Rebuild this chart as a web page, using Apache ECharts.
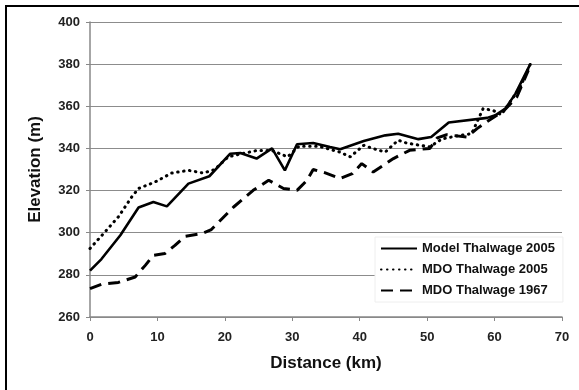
<!DOCTYPE html>
<html>
<head>
<meta charset="utf-8">
<script src="https://cdn.jsdelivr.net/npm/echarts@6/dist/echarts.min.js"></script>
<style>
  html, body { margin: 0; padding: 0; background: #fff; }
  #chart { width: 579px; height: 390px; }
</style>
</head>
<body>
<div id="chart"></div>
<script>
// distances (km) and elevations (m)
var modelDist = [0, 1.7, 4.5, 7.2, 9.4, 11.4, 14.6, 17.7, 20.8, 22.3, 24.7, 27, 28.9, 30.7, 33.1, 35.6, 37.1, 40.6, 43.8, 45.7, 48.7, 50.6, 53.2, 58.9, 60.1, 61.6, 63.1, 65.3];
var modelElev = [282, 287.5, 298.8, 312, 314.6, 312.5, 323.3, 326.8, 337.5, 337.8, 335.2, 340, 329.6, 342, 342.6, 340.7, 339.6, 343.5, 346.2, 347, 344.4, 345.4, 352.3, 354.5, 355.7, 358.9, 366, 380];

var mdo2005Dist = [0, 2.2, 4.2, 6.2, 7.2, 9.6, 12.1, 14.6, 16.8, 18.5, 20.5, 22.5, 24.7, 27, 29.3, 31, 34, 37, 38.6, 40.6, 42, 43.8, 45.7, 46.9, 48.9, 50.4, 52.2, 54.9, 56.6, 58.3, 59.8, 61, 63.8, 65.3];
var mdo2005Elev = [292.5, 300.3, 307.5, 317, 321, 324, 328.3, 329.6, 328.3, 330, 336, 337.5, 339, 339, 336, 341, 341, 338.3, 336, 341.5, 339.9, 338.3, 343.9, 342.6, 341.5, 340.8, 344.5, 346.2, 347, 358.9, 358, 356, 369, 380];

var mdo1967Dist = [0, 1.7, 4.2, 6.7, 8.2, 9.4, 11.1, 12.6, 14.1, 16.6, 18, 21.3, 24.2, 26.5, 28.7, 30.7, 32.2, 33.1, 34.8, 37.1, 38.9, 40.3, 42, 45, 47.4, 50.4, 51.5, 52.9, 55.9, 57.4, 58.8, 61.4, 63.3, 65];
var mdo1967Elev = [273.5, 275.5, 276.4, 279, 284.5, 289.3, 290.1, 294, 298.3, 299.6, 301.5, 312.2, 320.1, 324.9, 321, 320.1, 324.9, 330, 328.5, 325.7, 328, 332.8, 328.8, 335.2, 339.1, 340, 345, 346.5, 345.4, 349.4, 352.5, 358, 364.4, 377];

var seriesNames = ['Model Thalwage 2005', 'MDO Thalwage 2005', 'MDO Thalwage 1967'];

function pairs(xs, ys) {
  return xs.map(function (x, i) { return [x, ys[i]]; });
}

var chart = echarts.init(document.getElementById('chart'));
var font = 'Liberation Sans, Arial, sans-serif';

chart.setOption({
  animation: false,
  backgroundColor: '#fff',
  color: ['#000', '#000', '#000'],
  grid: { left: 90, right: 17, top: 22, bottom: 73 },
  // frame of the figure
  graphic: [{
    type: 'polyline',
    shape: { points: [[6, 395], [6, 6], [585, 6]] },
    style: { stroke: '#000', lineWidth: 2, fill: null }
  }],
  legend: {
    data: seriesNames,
    orient: 'vertical',
    left: 375,
    top: 237,
    padding: [5, 8, 5, 5],
    itemWidth: 36,
    itemHeight: 14,
    itemGap: 8,
    itemStyle: { opacity: 0 },
    backgroundColor: '#fff',
    borderColor: '#eee',
    borderWidth: 1,
    textStyle: { fontFamily: font, fontWeight: 'bold', fontSize: 13, color: '#111' }
  },
  xAxis: {
    type: 'value',
    min: 0, max: 70, interval: 10,
    name: 'Distance (km)',
    nameLocation: 'middle',
    nameGap: 38,
    nameTextStyle: { fontFamily: font, fontWeight: 'bold', fontSize: 17, color: '#111' },
    axisLine: { show: true, lineStyle: { color: '#888', width: 1.5 } },
    axisTick: { show: true, length: 4, lineStyle: { color: '#888' } },
    axisLabel: { margin: 14, fontFamily: font, fontWeight: 'bold', fontSize: 13, color: '#222' },
    splitLine: { show: false }
  },
  yAxis: {
    type: 'value',
    min: 260, max: 400, interval: 20,
    name: 'Elevation (m)',
    nameLocation: 'middle',
    nameGap: 46,
    nameTextStyle: { fontFamily: font, fontWeight: 'bold', fontSize: 17, color: '#111' },
    axisLine: { show: true, lineStyle: { color: '#888', width: 1.5 } },
    axisTick: { show: true, length: 4, lineStyle: { color: '#888' } },
    axisLabel: { margin: 10, fontFamily: font, fontWeight: 'bold', fontSize: 13, color: '#222' },
    splitLine: { show: true, lineStyle: { color: '#8c8c8c', width: 1.2 } }
  },
  series: [
    {
      name: 'MDO Thalwage 1967',
      type: 'line',
      symbol: 'none',
      z: 2,
      itemStyle: { color: '#000' },
      lineStyle: { color: '#000', width: 3, type: [12, 7] },
      data: pairs(mdo1967Dist, mdo1967Elev)
    },
    {
      name: 'MDO Thalwage 2005',
      type: 'line',
      symbol: 'none',
      z: 3,
      itemStyle: { color: '#000' },
      lineStyle: { color: '#000', width: 3, type: [0.5, 5.5], cap: 'round' },
      data: pairs(mdo2005Dist, mdo2005Elev)
    },
    {
      name: 'Model Thalwage 2005',
      type: 'line',
      symbol: 'none',
      z: 4,
      itemStyle: { color: '#000' },
      lineStyle: { color: '#000', width: 2.6 },
      data: pairs(modelDist, modelElev)
    }
  ]
});
</script>
</body>
</html>
